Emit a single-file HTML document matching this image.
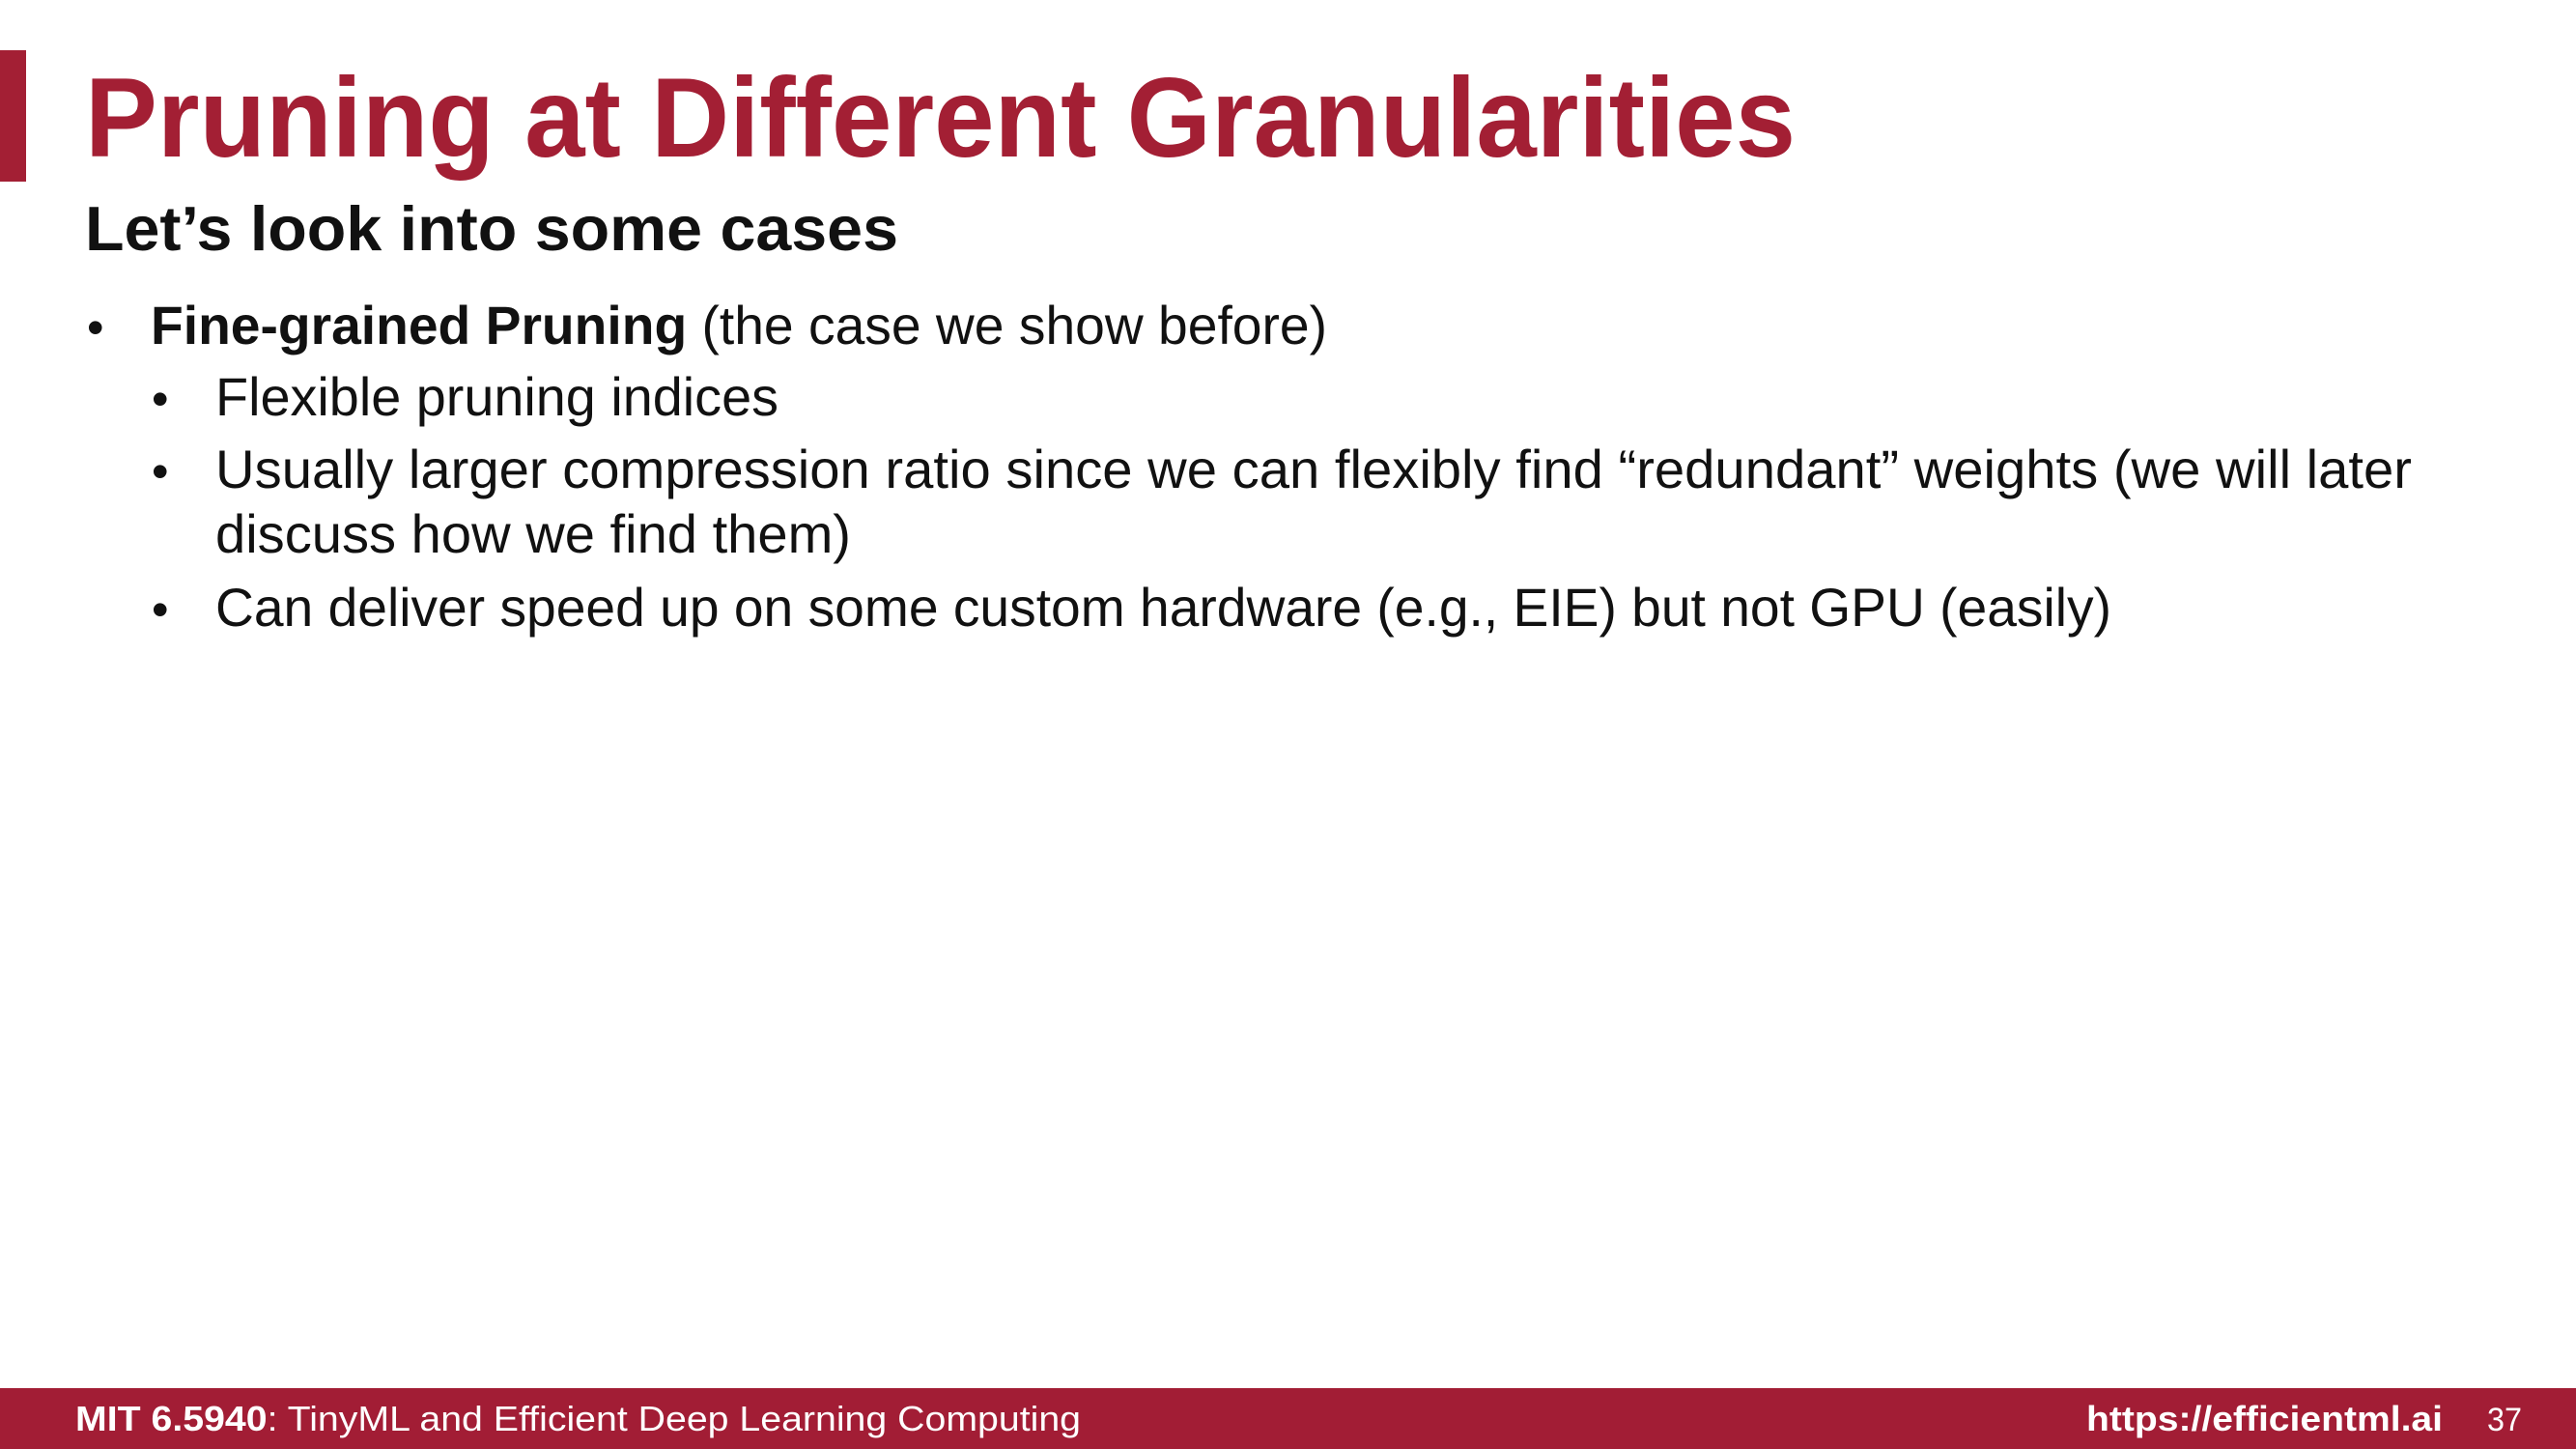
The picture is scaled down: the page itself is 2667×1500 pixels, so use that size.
<!DOCTYPE html>
<html><head><meta charset="utf-8"><style>
html,body{margin:0;padding:0;background:#fff;}
svg{display:block;}
text{font-family:"Liberation Sans",Arial,sans-serif;}
</style></head><body>
<svg width="2667" height="1500" viewBox="0 0 2667 1500">
<rect x="0" y="0" width="2667" height="1500" fill="#ffffff"/>
<rect x="0" y="52" width="27" height="136" fill="#a31f34"/>
<text x="88" y="162" font-size="117" font-weight="bold" fill="#a31f34" textLength="1771" lengthAdjust="spacingAndGlyphs">Pruning at Different Granularities</text>
<text x="88" y="259" font-size="65" font-weight="bold" fill="#111" textLength="842" lengthAdjust="spacingAndGlyphs">Let’s look into some cases</text>

<text x="90" y="356" font-size="50" fill="#111">•</text>
<text x="156" y="356" font-size="56" fill="#111" textLength="1218" lengthAdjust="spacingAndGlyphs"><tspan font-weight="bold">Fine-grained Pruning</tspan> (the case we show before)</text>

<text x="157" y="430" font-size="50" fill="#111">•</text>
<text x="223" y="430" font-size="56" fill="#111" textLength="583" lengthAdjust="spacingAndGlyphs">Flexible pruning indices</text>

<text x="157" y="505" font-size="50" fill="#111">•</text>
<text x="223" y="505" font-size="56" fill="#111" textLength="2274" lengthAdjust="spacingAndGlyphs">Usually larger compression ratio since we can flexibly find “redundant” weights (we will later</text>
<text x="223" y="572" font-size="56" fill="#111" textLength="658" lengthAdjust="spacingAndGlyphs">discuss how we find them)</text>

<text x="157" y="648" font-size="50" fill="#111">•</text>
<text x="223" y="648" font-size="56" fill="#111" textLength="1963" lengthAdjust="spacingAndGlyphs">Can deliver speed up on some custom hardware (e.g., EIE) but not GPU (easily)</text>

<rect x="0" y="1437" width="2667" height="63" fill="#a21d35"/>
<text x="78" y="1481" font-size="36" fill="#fff" textLength="1041" lengthAdjust="spacingAndGlyphs"><tspan font-weight="bold">MIT 6.5940</tspan>: TinyML and Efficient Deep Learning Computing</text>
<text x="2160" y="1481" font-size="36" font-weight="bold" fill="#fff" textLength="369" lengthAdjust="spacingAndGlyphs">https://efficientml.ai</text>
<text x="2575" y="1481" font-size="34" fill="#fff" textLength="36" lengthAdjust="spacingAndGlyphs">37</text>
</svg>
</body></html>
